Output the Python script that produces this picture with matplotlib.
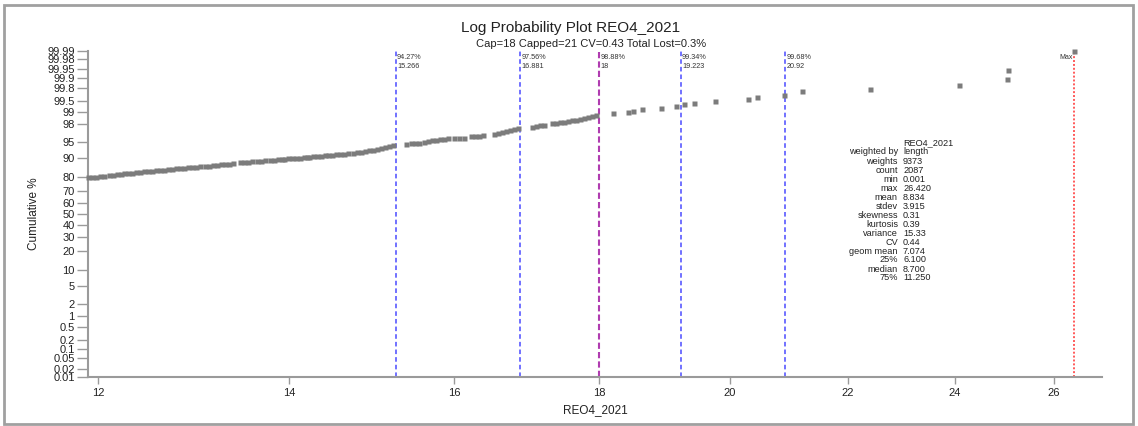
from statistics import NormalDist

import numpy as np
import matplotlib
matplotlib.use("Agg")
import matplotlib.pyplot as plt
from matplotlib.patches import Rectangle
from matplotlib.ticker import FixedLocator, FuncFormatter, NullLocator

# grade values (x) and weighted cumulative percent (y)
values = [
    11.90, 11.94, 11.98, 12.02, 12.06, 12.10, 12.14, 12.18, 12.22, 12.25, 12.29,
    12.335, 12.374, 12.415, 12.455, 12.495, 12.536, 12.576, 12.617, 12.658, 12.699,
    12.740, 12.781, 12.823, 12.864, 12.906, 12.948, 12.990, 13.032,
    13.085, 13.127, 13.169, 13.212, 13.255, 13.298, 13.341, 13.384,
    13.461, 13.504, 13.548, 13.592,
    13.647, 13.691, 13.735,
    13.791, 13.836, 13.881, 13.925,
    13.948, 13.993, 14.039, 14.084, 14.130, 14.176, 14.210,
    14.233, 14.279, 14.326, 14.372, 14.418,
    14.453, 14.500, 14.547, 14.595, 14.642, 14.689,
    14.749, 14.796, 14.844, 14.893, 14.941, 14.989, 15.038, 15.087, 15.135, 15.184, 15.234,
    15.395, 15.457, 15.507, 15.557, 15.620, 15.671, 15.722, 15.773, 15.824, 15.875,
    15.927, 16.004, 16.069, 16.134, 16.226, 16.278, 16.331, 16.384, 16.530, 16.584,
    16.638, 16.692, 16.746, 16.800, 16.855,
    17.047, 17.102, 17.157, 17.213, 17.325, 17.381, 17.437, 17.494, 17.550, 17.607,
    17.664, 17.721, 17.779, 17.836, 17.894, 17.952,
    18.20, 18.42, 18.50, 18.63, 18.92, 19.15, 19.27, 19.43, 19.76, 20.30, 20.45,
    20.89, 21.21, 22.41, 24.08, 25.03, 25.04, 26.42,
]
cum_pct = [
    79.66, 79.92, 80.24, 80.56, 80.81, 81.06, 81.36, 81.67, 81.91, 82.21, 82.45,
    82.68, 82.92, 83.09, 83.32, 83.55, 83.77, 83.94, 84.16, 84.38, 84.60,
    84.82, 84.97, 85.19, 85.40, 85.61, 85.76, 85.97, 86.12,
    86.27, 86.47, 86.67, 86.86, 87.06, 87.25, 87.44, 87.63,
    88.09, 88.22, 88.36, 88.49,
    88.67, 88.80, 88.93,
    89.06, 89.18, 89.31, 89.44,
    89.52, 89.65, 89.77, 89.89, 90.01, 90.13, 90.21,
    90.29, 90.45, 90.61, 90.72, 90.87,
    90.98, 91.09, 91.24, 91.38, 91.49, 91.64,
    91.77, 91.94, 92.14, 92.34, 92.57, 92.79, 93.04, 93.28, 93.54, 93.80, 94.07,
    94.38, 94.57, 94.65, 94.72, 94.94, 95.12, 95.31, 95.46, 95.59, 95.68,
    95.74, 95.80, 95.82, 95.86, 96.14, 96.21, 96.29, 96.36, 96.63, 96.78,
    96.92, 97.06, 97.21, 97.36, 97.51,
    97.64, 97.72, 97.80, 97.87, 98.03, 98.09, 98.16, 98.22, 98.29, 98.34,
    98.41, 98.48, 98.56, 98.65, 98.73, 98.81,
    98.926, 98.989, 99.049, 99.144, 99.230, 99.291, 99.376, 99.441, 99.497, 99.551, 99.607,
    99.669, 99.746, 99.780, 99.840, 99.893, 99.946, 99.990,
]

# percentile marker lines
pct_line_values = [15.266, 16.881, 19.223, 20.92]
pct_line_pcts = ["94.27%", "97.56%", "99.34%", "99.68%"]
cap_value = 18
cap_pct = "98.88%"
max_value = 26.42

prob_ticks = [0.01, 0.02, 0.05, 0.1, 0.2, 0.5, 1, 2, 5, 10, 20, 30, 40, 50, 60, 70,
              80, 90, 95, 98, 99, 99.5, 99.8, 99.9, 99.95, 99.98, 99.99]
x_ticks = [12, 14, 16, 18, 20, 22, 24, 26]

stat_names = ["weighted by", "weights", "count", "min", "max", "mean", "stdev",
              "skewness", "kurtosis", "variance", "CV", "geom mean", "25%",
              "median", "75%"]
stat_values = ["length", "9373", "2087", "0.001", "26.420", "8.834", "3.915",
               "0.31", "0.39", "15.33", "0.44", "7.074", "6.100", "8.700", "11.250"]

_nd = NormalDist()
_ppf = np.vectorize(_nd.inv_cdf, otypes=[float])
_cdf = np.vectorize(_nd.cdf, otypes=[float])


def prob_forward(p):
    p = np.clip(np.asarray(p, dtype=float) / 100.0, 1e-9, 1 - 1e-9)
    return _ppf(p)


def prob_inverse(z):
    return _cdf(np.asarray(z, dtype=float)) * 100.0


plt.rcParams["font.family"] = ["Liberation Sans", "DejaVu Sans"]

fig = plt.figure(figsize=(11.38, 4.26), dpi=100)
ax = fig.add_axes([0.0773, 0.115, 0.8911, 0.766])

ax.plot(values, cum_pct, ls="none", marker="s", ms=3.6, mfc="#7c7c7c", mec="none",
        clip_on=False, zorder=3)

ax.set_xscale("log")
ax.set_yscale("function", functions=(prob_forward, prob_inverse))
ax.set_xlim(11.90, 27.03)
ax.set_ylim(0.01, 99.99)

blend = ax.get_xaxis_transform()
for v, p in zip(pct_line_values, pct_line_pcts):
    ax.axvline(v, color="#4a4aff", lw=1.1, ls=(0, (3, 2)), zorder=2)
    ax.text(v * 1.001, 0.99, f"{p}\n{v:g}", transform=blend, fontsize=5.2,
            va="top", ha="left", color="#333333", linespacing=1.5)
ax.axvline(cap_value, color="#b03cb0", lw=1.5, ls=(0, (3, 1.5)), zorder=2)
ax.text(cap_value * 1.001, 0.99, f"{cap_pct}\n{cap_value:g}", transform=blend,
        fontsize=5.2, va="top", ha="left", color="#333333", linespacing=1.5)
ax.axvline(max_value, color="#ff5a5a", lw=1.4, ls=(0, (1, 1)), zorder=2)
ax.text(max_value * 0.999, 0.99, "Max", transform=blend, fontsize=5,
        va="top", ha="right", color="#333333")

# axes styling
for side in ("top", "right"):
    ax.spines[side].set_visible(False)
for side in ("left", "bottom"):
    ax.spines[side].set_color("#9a9a9a")
    ax.spines[side].set_linewidth(1.5)

ax.yaxis.set_major_locator(FixedLocator(prob_ticks))
ax.yaxis.set_minor_locator(NullLocator())
ax.yaxis.set_major_formatter(FuncFormatter(lambda v, pos: f"{v:g}"))
ax.xaxis.set_major_locator(FixedLocator(x_ticks))
ax.xaxis.set_minor_locator(NullLocator())
ax.xaxis.set_major_formatter(FuncFormatter(lambda v, pos: f"{v:g}"))
ax.tick_params(axis="y", length=8, width=1, color="#9a9a9a", labelsize=8,
               pad=1.5, labelcolor="#222222")
ax.tick_params(axis="x", length=5, width=1, color="#9a9a9a", labelsize=8,
               pad=3, labelcolor="#222222")

ax.set_ylabel("Cumulative %", fontsize=8.5, labelpad=5, color="#222222")
ax.set_xlabel("REO4_2021", fontsize=8.5, labelpad=4, color="#222222")

fig.text(0.501, 0.934, "Log Probability Plot REO4_2021", ha="center", va="center",
         fontsize=11, color="#222222")
fig.text(0.519, 0.897, "Cap=18 Capped=21 CV=0.43 Total Lost=0.3%", ha="center",
         va="center", fontsize=8, color="#222222")

# summary statistics block
col_x = 0.7935
row_y = 1 - 143 / 426
row_step = 9.0 / 426
fig.text(col_x, row_y, "REO4_2021", ha="left", va="center", fontsize=6.6, color="#222222")
for i, (name, val) in enumerate(zip(stat_names, stat_values), start=1):
    y = row_y - i * row_step
    fig.text(col_x - 0.0045, y, name, ha="right", va="center", fontsize=6.6, color="#222222")
    fig.text(col_x, y, val, ha="left", va="center", fontsize=6.6, color="#222222")

fig.patches.append(Rectangle((0.0035, 0.0047), 0.992, 0.9836, transform=fig.transFigure,
                             fill=False, ec="#a0a0a0", lw=2))

fig.savefig("out.png", dpi=100)
